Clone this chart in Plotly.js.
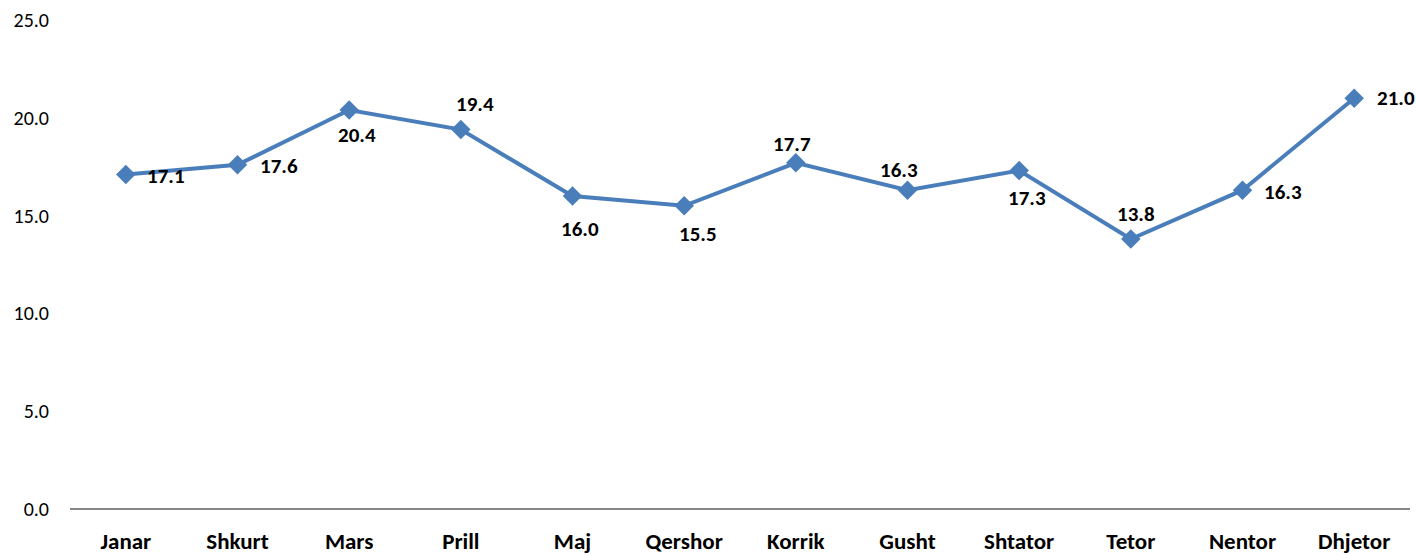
<!DOCTYPE html>
<html>
<head>
<meta charset="utf-8">
<script src="https://cdn.plot.ly/plotly-3.0.1.min.js"></script>
<style>html,body{margin:0;padding:0;background:#fff;}#chart{width:1416px;height:556px;}</style>
</head>
<body>
<div id="chart"></div>
<script>
const months = ["Janar","Shkurt","Mars","Prill","Maj","Qershor","Korrik","Gusht","Shtator","Tetor","Nentor","Dhjetor"];
const values = [17.1,17.6,20.4,19.4,16.0,15.5,17.7,16.3,17.3,13.8,16.3,21.0];
const yTicks = [0,5,10,15,20,25];

// label offsets in pixels (style config, not data)
const labelShiftX = [40,41,8,14,7,14,-4,-9,8,5,40,42];
const labelShiftY = [-1,-1,-25,26,-33,-28,19,20,-27,25,-2,0];

const FONT = "Carlito, Lato, sans-serif";

const trace = {
  x: months,
  y: values,
  type: "scatter",
  mode: "lines+markers",
  line: {color: "#4A7EBB", width: 4},
  marker: {symbol: "diamond", size: 15, color: "#4A7EBB"},
  cliponaxis: false,
  hoverinfo: "skip"
};

const annotations = months.map((m, i) => ({
  x: m, y: values[i], xref: "x", yref: "y",
  text: values[i].toFixed(1),
  showarrow: false,
  xshift: labelShiftX[i], yshift: labelShiftY[i],
  font: {family: FONT, size: 21, color: "#000", weight: "bold"}
}));

const layout = {
  width: 1416, height: 556,
  margin: {l: 70, r: 6, t: 20, b: 47},
  paper_bgcolor: "#fff", plot_bgcolor: "#fff",
  showlegend: false,
  annotations: annotations,
  xaxis: {
    type: "category",
    range: [-0.5, 11.5],
    showgrid: false, zeroline: false, showline: false,
    ticks: "",
    tickfont: {family: FONT, size: 23, color: "#000", weight: "bold"},
    ticklabelstandoff: 16
  },
  yaxis: {
    range: [0, 25],
    tickvals: yTicks,
    ticktext: yTicks.map(v => v.toFixed(1)),
    showgrid: false,
    zeroline: true, zerolinecolor: "#868686", zerolinewidth: 1.5,
    showline: false, ticks: "",
    tickfont: {family: FONT, size: 20, color: "#000"},
    ticklabelstandoff: 20
  }
};

Plotly.newPlot("chart", [trace], layout, {displayModeBar: false, staticPlot: true});
</script>
</body>
</html>
